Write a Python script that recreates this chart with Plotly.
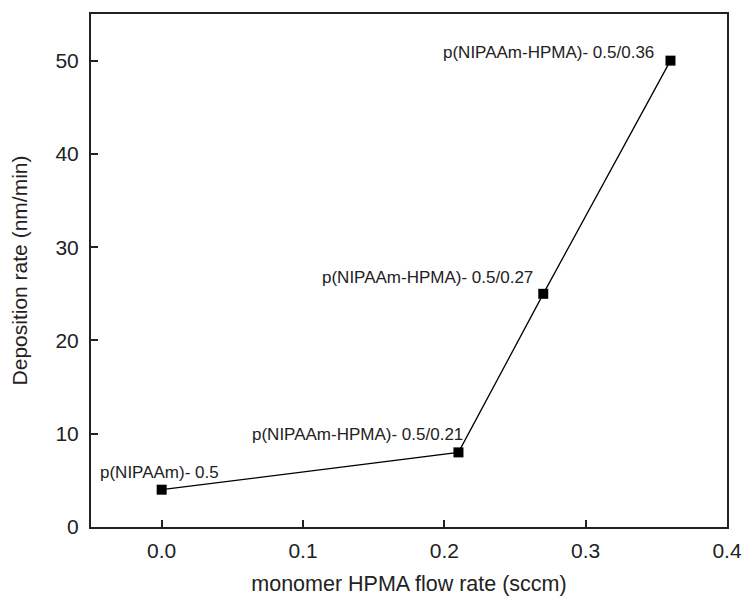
import plotly.graph_objects as go

flow = [0.0, 0.21, 0.27, 0.36]
rate = [4, 8, 25, 50]
labels = ["p(NIPAAm)- 0.5", "p(NIPAAm-HPMA)- 0.5/0.21",
          "p(NIPAAm-HPMA)- 0.5/0.27", "p(NIPAAm-HPMA)- 0.5/0.36"]
x_ticks = [0.0, 0.1, 0.2, 0.3, 0.4]
y_ticks = [0, 10, 20, 30, 40, 50]

font = "Arial, Liberation Sans, sans-serif"

fig = go.Figure()
fig.add_trace(go.Scatter(
    x=flow, y=rate, mode="lines+markers",
    line=dict(color="black", width=1.3),
    marker=dict(symbol="square", size=10, color="black"),
    showlegend=False,
))

# annotation placement: (xanchor, xshift, yshift)
place = [("center", -2, 17), ("right", 7, 18), ("right", -8, 16), ("right", -14, 8)]
for xv, yv, t, (xa, xs, ys) in zip(flow, rate, labels, place):
    fig.add_annotation(x=xv, y=yv, text=t, showarrow=False,
                       xanchor=xa, yanchor="middle", xshift=xs, yshift=ys,
                       font=dict(family=font, size=17, color="#222"))

axis_common = dict(
    showline=True, linecolor="#222", linewidth=2, mirror=True,
    ticks="inside", ticklen=7, tickwidth=2, tickcolor="#222",
    showgrid=False, zeroline=False, automargin=False,
    tickfont=dict(family=font, size=21, color="#222"),
)

fig.update_xaxes(range=[-0.05, 0.4], tickvals=x_ticks, tickformat=".1f",
                 ticklabelstandoff=4,
                 title=dict(text="monomer HPMA flow rate (sccm)", standoff=26,
                            font=dict(family=font, size=21.5, color="#222")),
                 **axis_common)
fig.update_yaxes(range=[0, 55], tickvals=y_ticks, ticklabelstandoff=6,
                 title=dict(text="Deposition rate (nm/min)", standoff=22,
                            font=dict(family=font, size=21, color="#222")),
                 **axis_common)

fig.update_layout(
    width=744, height=596,
    margin=dict(l=91, r=17, t=14, b=69),
    plot_bgcolor="white", paper_bgcolor="white",
)

fig.write_html("out.html", config={"displayModeBar": False},
               post_script="document.body.style.margin='0';document.body.style.overflow='hidden';")
